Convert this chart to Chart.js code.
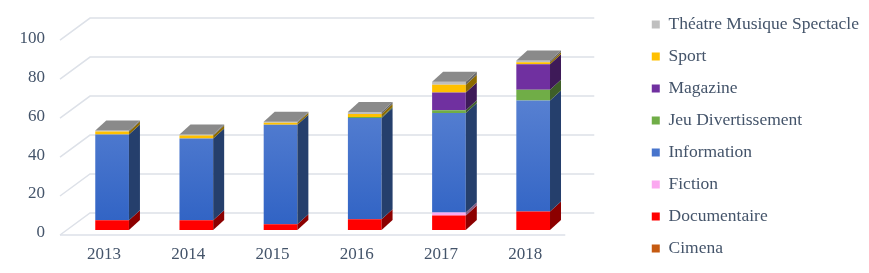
<!DOCTYPE html>
<html>
<head>
<meta charset="utf-8">
<script src="https://cdn.jsdelivr.net/npm/chart.js@4.4.1/dist/chart.umd.min.js"></script>
<style>
  body { margin: 0; background: #fff; }
  #wrap { width: 869px; height: 273px; }
</style>
</head>
<body>
<div id="wrap"><canvas id="chart" width="869" height="273"></canvas></div>
<script>
// données
const years = ['2013', '2014', '2015', '2016', '2017', '2018'];
const cimena = [0, 0, 0, 0, 0, 0];
const documentaire = [5, 5, 3, 5.5, 7.5, 9.5];
const fiction = [0, 0, 0, 0, 1.5, 0];
const information = [44, 42, 51, 52, 51, 57];
const jeuDivertissement = [0, 0, 0, 0.5, 1.5, 5.5];
const magazine = [0, 0, 0, 0, 9, 13];
const sport = [1.5, 1.5, 1, 1.5, 4, 1];
const theatre = [0.5, 0.5, 0.5, 1, 1.5, 1];
const yTicks = [0, 20, 40, 60, 80, 100];

const textColor = '#44546A';
const depth = { x: 11, y: 10 };

// assombrit une couleur hex
function shade(hex, f) {
  const n = parseInt(hex.slice(1), 16);
  const r = Math.round(((n >> 16) & 255) * f);
  const g = Math.round(((n >> 8) & 255) * f);
  const b = Math.round((n & 255) * f);
  return 'rgb(' + r + ',' + g + ',' + b + ')';
}

function blueGradient(context) {
  const ca = context.chart.chartArea;
  if (!ca) return '#4472C4';
  const g = context.chart.ctx.createLinearGradient(0, 35, 0, ca.bottom);
  g.addColorStop(0, '#6B8FD8');
  g.addColorStop(1, '#2F62C4');
  return g;
}

const series = [
  { label: 'Cimena', data: cimena, color: '#C55A11' },
  { label: 'Documentaire', data: documentaire, color: '#FF0000' },
  { label: 'Fiction', data: fiction, color: '#FBA8F0' },
  { label: 'Information', data: information, color: '#4472C4' },
  { label: 'Jeu Divertissement', data: jeuDivertissement, color: '#70AD47' },
  { label: 'Magazine', data: magazine, color: '#7030A0' },
  { label: 'Sport', data: sport, color: '#FFC000' },
  { label: 'Théatre Musique Spectacle', data: theatre, color: '#BFBFBF' }
];

// faux effet 3D : grille en perspective + faces latérales et dessus
const bar3d = {
  id: 'bar3d',
  beforeDatasetsDraw(chart) {
    const { ctx, chartArea, scales: { y } } = chart;
    ctx.save();
    ctx.strokeStyle = '#DDE1E8';
    ctx.lineWidth = 1.5;
    yTicks.forEach(v => {
      const py = y.getPixelForValue(v);
      ctx.beginPath();
      ctx.moveTo(chartArea.left - 10, py + 5);
      ctx.lineTo(chartArea.left + 20, py - 17);
      ctx.lineTo(chartArea.right + 19, py - 17);
      ctx.stroke();
    });
    const p0 = y.getPixelForValue(0) + 5;
    ctx.beginPath();
    ctx.moveTo(chartArea.left - 10, p0);
    ctx.lineTo(chartArea.right - 10, p0);
    ctx.stroke();
    ctx.restore();
  },
  afterDatasetsDraw(chart) {
    const ctx = chart.ctx;
    const tops = [];
    ctx.save();
    chart.data.datasets.forEach((ds, di) => {
      const meta = chart.getDatasetMeta(di);
      meta.data.forEach((el, i) => {
        const p = el.getProps(['x', 'y', 'base', 'width'], true);
        if (p.base - p.y < 0.3) return;
        const r = p.x + p.width / 2;
        ctx.fillStyle = shade(series[di].color, 0.55);
        ctx.beginPath();
        ctx.moveTo(r, p.y);
        ctx.lineTo(r + depth.x, p.y - depth.y);
        ctx.lineTo(r + depth.x, p.base - depth.y);
        ctx.lineTo(r, p.base);
        ctx.closePath();
        ctx.fill();
        tops[i] = { p: p, color: series[di].color };
      });
    });
    tops.forEach(t => {
      const l = t.p.x - t.p.width / 2, r = t.p.x + t.p.width / 2;
      ctx.fillStyle = shade(t.color, 0.72);
      ctx.beginPath();
      ctx.moveTo(l, t.p.y);
      ctx.lineTo(l + depth.x, t.p.y - depth.y);
      ctx.lineTo(r + depth.x, t.p.y - depth.y);
      ctx.lineTo(r, t.p.y);
      ctx.closePath();
      ctx.fill();
    });
    ctx.restore();
  }
};

Chart.defaults.font.family = "'Liberation Serif', 'Times New Roman', serif";
Chart.defaults.color = textColor;

new Chart(document.getElementById('chart'), {
  type: 'bar',
  data: {
    labels: years,
    datasets: series.map(s => ({
      label: s.label,
      data: s.data,
      backgroundColor: s.label === 'Information' ? blueGradient : s.color,
      borderWidth: 0,
      barPercentage: 0.4,
      categoryPercentage: 1
    }))
  },
  options: {
    responsive: false,
    animation: false,
    layout: { padding: { left: 18, top: 0, right: 0, bottom: 0 } },
    plugins: {
      tooltip: { enabled: false },
      legend: {
        position: 'right',
        reverse: true,
        maxWidth: 280,
        labels: {
          boxWidth: 8,
          boxHeight: 8,
          padding: 14.5,
          color: textColor,
          font: { size: 17.5 }
        }
      }
    },
    scales: {
      x: {
        stacked: true,
        grid: { display: false },
        border: { display: false },
        ticks: { padding: 6, labelOffset: -8, font: { size: 17 } },
        afterFit: s => { s.height = 43; }
      },
      y: {
        stacked: true,
        min: 0,
        max: 118,
        grid: { display: false },
        border: { display: false },
        ticks: { stepSize: 20, padding: 17, labelOffset: 3, font: { size: 17 } },
        afterBuildTicks: s => { s.ticks = s.ticks.filter(t => yTicks.includes(t.value)); },
        afterFit: s => { s.width = 52; s.paddingTop = 0; s.paddingBottom = 0; }
      },
      yRight: {
        position: 'right',
        display: true,
        grid: { display: false },
        border: { display: false },
        ticks: { display: false },
        afterFit: s => { s.width = 62; s.paddingTop = 0; s.paddingBottom = 0; }
      }
    }
  },
  plugins: [bar3d]
});
</script>
</body>
</html>
